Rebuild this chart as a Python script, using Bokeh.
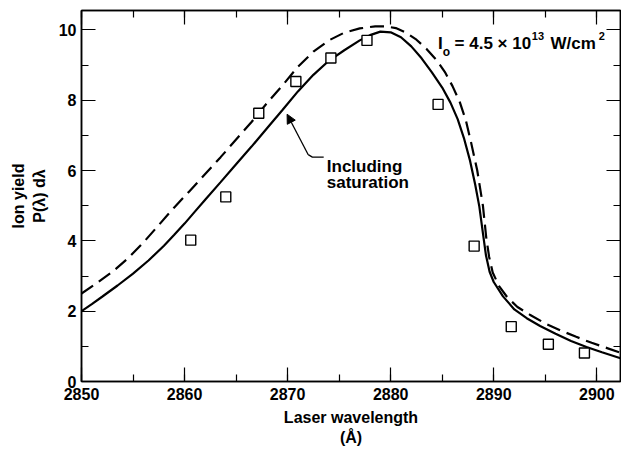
from bokeh.plotting import figure
from bokeh.models import (Range1d, LinearAxis, SingleIntervalTicker, Label,
                          Arrow, NormalHead, CustomJSTickFormatter)
from bokeh.embed import file_html
from bokeh.resources import INLINE

FONT = "Liberation Sans"

# Solid curve: including saturation
solid_x = [2850, 2851, 2852, 2853.5, 2855, 2856.5, 2858, 2859, 2860, 2861, 2862,
           2863.5, 2865, 2866.5, 2868, 2869.5, 2871, 2872.5, 2874, 2875.5, 2877,
           2878, 2879, 2880, 2881, 2882, 2883, 2884, 2885, 2885.8, 2886.5, 2887.1,
           2887.7, 2888.2, 2888.6, 2888.95, 2889.25, 2889.6, 2890, 2890.9, 2892,
           2893.2, 2894.5, 2896, 2897.5, 2899, 2900.5, 2902.3]
solid_y = [2.00, 2.20, 2.41, 2.73, 3.07, 3.44, 3.86, 4.17, 4.49, 4.83, 5.17,
           5.67, 6.18, 6.68, 7.20, 7.72, 8.25, 8.72, 9.12, 9.42, 9.70,
           9.85, 9.95, 9.93, 9.79, 9.53, 9.19, 8.79, 8.36, 7.93, 7.46, 6.93,
           6.28, 5.60, 4.98, 4.22, 3.58, 3.12, 2.83, 2.42, 2.05,
           1.80, 1.58, 1.36, 1.15, 0.98, 0.83, 0.66]

# Dashed curve
dash_x = [2850, 2851.5, 2853, 2854.5, 2856, 2857.5, 2859, 2860.5, 2862, 2863.5,
          2865, 2866.5, 2868, 2869.5, 2871, 2872.5, 2874, 2875.5, 2877, 2878.5,
          2879.5, 2880.5, 2881.5, 2882.5, 2883.5, 2884.5, 2885.3, 2886, 2886.7,
          2887.3, 2887.8, 2888.4, 2888.95, 2889.27, 2889.55, 2889.9, 2890.5,
          2891.3, 2892.3, 2893.5, 2895, 2896.5, 2898, 2899.5, 2901, 2902.3]
dash_y = [2.50, 2.80, 3.12, 3.50, 3.95, 4.45, 4.95, 5.42, 5.90, 6.38,
          6.88, 7.38, 7.92, 8.42, 8.95, 9.38, 9.70, 9.92, 10.04, 10.10,
          10.10, 10.05, 9.92, 9.72, 9.45, 9.12, 8.78, 8.40, 7.95,
          7.42, 6.80, 6.00, 5.00, 4.10, 3.55, 3.10, 2.72,
          2.40, 2.12, 1.90, 1.65, 1.45, 1.27, 1.10, 0.95, 0.82]

# Measured points (open squares)
meas_x = [2860.6, 2864.0, 2867.2, 2870.8, 2874.2, 2877.7, 2884.6, 2888.1,
          2891.7, 2895.3, 2898.8]
meas_y = [4.02, 5.25, 7.63, 8.53, 9.2, 9.7, 7.88, 3.85, 1.56, 1.06, 0.81]

x_ticks_interval = 10
y_ticks_interval = 2

p = figure(width=621, height=449, output_backend="svg", toolbar_location=None,
           x_range=Range1d(2850, 2902.3), y_range=Range1d(0, 10.55),
           min_border_left=81, min_border_right=1, min_border_top=10,
           min_border_bottom=68)
p.background_fill_color = "white"
p.border_fill_color = "white"
p.outline_line_color = "black"
p.outline_line_width = 1.5
p.xgrid.visible = False
p.ygrid.visible = False

bottom = p.xaxis[0]
left = p.yaxis[0]
bottom.ticker = SingleIntervalTicker(interval=x_ticks_interval, num_minor_ticks=2)
left.ticker = SingleIntervalTicker(interval=y_ticks_interval, num_minor_ticks=2)

top = LinearAxis(ticker=SingleIntervalTicker(interval=x_ticks_interval, num_minor_ticks=2),
                 formatter=CustomJSTickFormatter(code="return '';"))
right = LinearAxis(ticker=SingleIntervalTicker(interval=y_ticks_interval, num_minor_ticks=2),
                   formatter=CustomJSTickFormatter(code="return '';"))
for ax in (top, right):
    ax.major_label_standoff = 0
p.add_layout(top, "above")
p.add_layout(right, "right")

for ax in (bottom, left, top, right):
    ax.axis_line_width = 1.5
    ax.axis_line_color = "black"
    ax.major_tick_in = 14
    ax.major_tick_out = 0
    ax.minor_tick_in = 7
    ax.minor_tick_out = 0
    ax.major_tick_line_width = 1.2
    ax.minor_tick_line_width = 1.2
    ax.major_tick_line_color = "black"
    ax.minor_tick_line_color = "black"

for ax in (bottom, left):
    ax.major_label_text_font = FONT
    ax.major_label_text_font_style = "bold"
    ax.major_label_text_font_size = "16px"
    ax.major_label_text_color = "black"
    ax.axis_label_text_font = FONT
    ax.axis_label_text_font_style = "bold"
    ax.axis_label_text_font_size = "16px"
    ax.axis_label_text_color = "black"

bottom.axis_label = "Laser wavelength\n(Å)"
bottom.major_label_standoff = 6
bottom.axis_label_standoff = 6
left.axis_label = "Ion yield\nP(λ) dλ"
left.major_label_standoff = 5
left.axis_label_standoff = 8
left.major_label_orientation = "horizontal"

p.line(dash_x, dash_y, line_color="black", line_width=2.2, line_dash="14 7")
p.line(solid_x, solid_y, line_color="black", line_width=2.2)
p.scatter(meas_x, meas_y, marker="square", size=10, fill_color="white",
          line_color="black", line_width=1.4)

# Annotation: Including saturation
p.add_layout(Arrow(end=NormalHead(size=9, fill_color="black", line_color="black"),
                   x_start=2872.0, y_start=6.45, x_end=2869.95, y_end=7.6,
                   line_width=1.3, line_color="black"))
p.line([2872.0, 2872.4, 2873.5], [6.45, 6.38, 6.38], line_color="black", line_width=1.3)
lab_kw = dict(text_font=FONT, text_font_style="bold", text_color="black",
              text_baseline="alphabetic", text_align="left")
p.add_layout(Label(x=2873.8, y=6.1, text="Including", text_font_size="17px", **lab_kw))
p.add_layout(Label(x=2873.8, y=5.66, text="saturation", text_font_size="17px", **lab_kw))

# Annotation: intensity
p.add_layout(Label(x=2884.6, y=9.60, text="I", text_font_size="17px", **lab_kw))
p.add_layout(Label(x=2885.05, y=9.36, text="o", text_font_size="12px", **lab_kw))
p.add_layout(Label(x=2886.2, y=9.60, text="= 4.5 × 10", text_font_size="17px", **lab_kw))
p.add_layout(Label(x=2893.7, y=9.82, text="13", text_font_size="11px", **lab_kw))
p.add_layout(Label(x=2895.5, y=9.60, text="W/cm", text_font_size="17px", **lab_kw))
p.add_layout(Label(x=2900.2, y=9.82, text="2", text_font_size="11px", **lab_kw))

open("out.html", "w").write(file_html(p, INLINE))
